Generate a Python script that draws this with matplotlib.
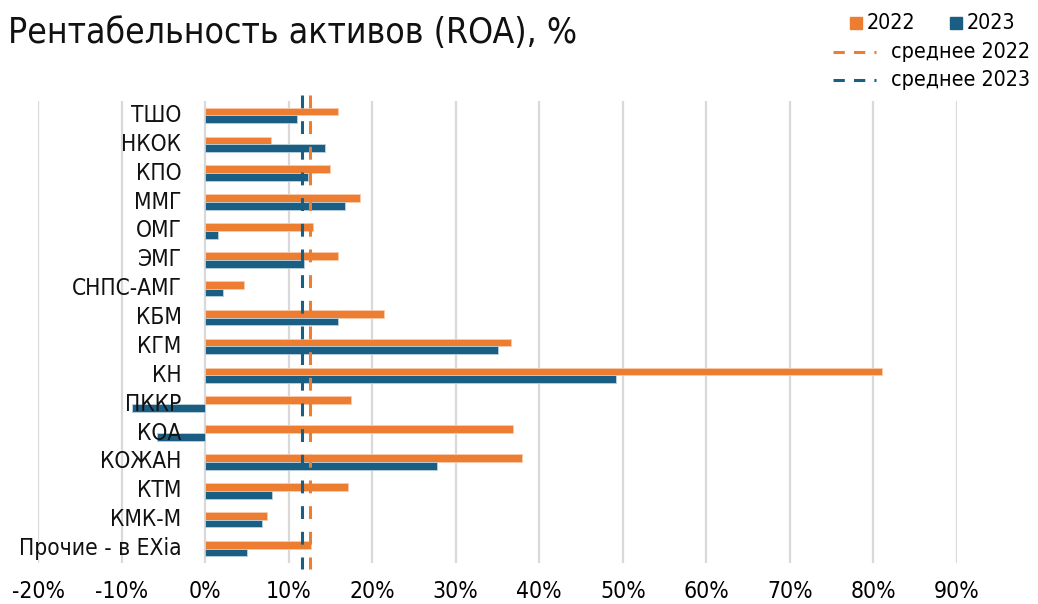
import numpy as np
import matplotlib.pyplot as plt
from matplotlib.patches import Rectangle
from matplotlib.lines import Line2D

plt.rcParams["font.stretch"] = "condensed"

companies = ["ТШО", "НКОК", "КПО", "ММГ", "ОМГ", "ЭМГ", "СНПС-АМГ", "КБМ",
             "КГМ", "КН", "ПККР", "КОА", "КОЖАН", "КТМ", "КМК-М", "Прочие - в EXia"]
roa_2022 = [15.9, 7.9, 15.0, 18.5, 12.9, 15.9, 4.7, 21.4,
            36.6, 81.0, 17.5, 36.9, 37.9, 17.1, 7.4, 12.7]
roa_2023 = [11.0, 14.3, 12.3, 16.7, 1.5, 11.8, 2.1, 15.9,
            35.1, 49.2, -8.8, -5.7, 27.7, 8.0, 6.8, 5.0]
avg_2022 = 12.6
avg_2023 = 11.6

c22 = "#ED7D31"
c23 = "#1A5F83"

fig = plt.figure(figsize=(10.38, 6.04), dpi=100)
ax = fig.add_axes([38 / 1038, 1 - 563 / 604, (957 - 38) / 1038, 462 / 604])

n = len(companies)
y = np.arange(n)
h = 0.27
ax.barh(y - h / 2, roa_2022, height=h, color=c22, edgecolor="#f8cbad", linewidth=0.6, zorder=3)
ax.barh(y + h / 2, roa_2023, height=h, color=c23, edgecolor="#bcd3e0", linewidth=0.6, zorder=3)

# average lines, a bit taller than the plot area
ax.plot([avg_2022, avg_2022], [-0.7, n - 0.3], color=c22, lw=2.2,
        dashes=(4.2, 4.2), clip_on=False, zorder=4)
ax.plot([avg_2023, avg_2023], [-0.7, n - 0.3], color=c23, lw=2.2,
        dashes=(4.2, 4.2), clip_on=False, zorder=4)

# category labels sit next to the zero line
for i, name in enumerate(companies):
    ax.annotate(name, xy=(0, i), xytext=(-17, 0), textcoords="offset points",
                ha="right", va="center", fontsize=16.3, color="#111111", zorder=5)

ax.set_xlim(-20, 90)
ax.set_ylim(n - 0.5, -0.5)
ax.set_xticks(np.arange(-20, 91, 10))
ax.set_xticklabels([f"{v}%" for v in range(-20, 91, 10)], fontsize=16.5)
ax.set_yticks([])
ax.tick_params(axis="x", length=0, pad=12)
ax.grid(axis="x", color="#d9d9d9", linewidth=1.6, zorder=0)
ax.set_axisbelow(True)
for s in ax.spines.values():
    s.set_visible(False)

fig.text(8 / 1038, 1 - 33 / 604, "Рентабельность активов (ROA), %",
         fontsize=25.5, va="center", ha="left", color="#111111")

# legend
def fx(px):
    return px / 1038

def fy(py):
    return 1 - py / 604

fig.add_artist(Rectangle((fx(850), fy(29)), fx(12), 12 / 604, color=c22, transform=fig.transFigure))
fig.text(fx(867), fy(23), "2022", fontsize=15.4, va="center", ha="left")
fig.add_artist(Rectangle((fx(950), fy(29)), fx(12), 12 / 604, color=c23, transform=fig.transFigure))
fig.text(fx(967), fy(23), "2023", fontsize=15.4, va="center", ha="left")
fig.add_artist(Line2D([fx(833), fx(876)], [fy(52), fy(52)], color=c22, lw=2.2,
                      dashes=(3.7, 3.0), transform=fig.transFigure))
fig.text(fx(891), fy(52), "среднее 2022", fontsize=15.4, va="center", ha="left")
fig.add_artist(Line2D([fx(833), fx(876)], [fy(80), fy(80)], color=c23, lw=2.2,
                      dashes=(3.7, 3.0), transform=fig.transFigure))
fig.text(fx(891), fy(80), "среднее 2023", fontsize=15.4, va="center", ha="left")

fig.savefig("out.png", dpi=100)
